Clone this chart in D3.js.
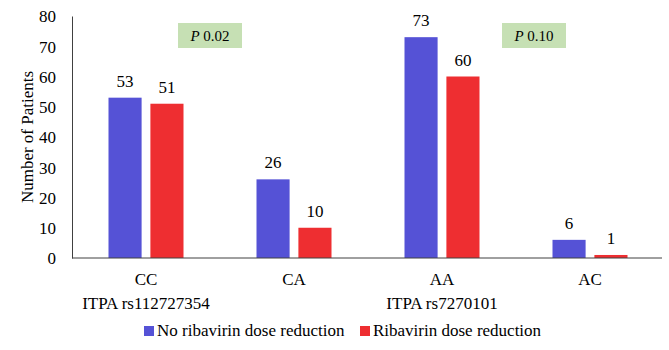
<!DOCTYPE html>
<html lang="en">
<head>
<meta charset="utf-8">
<title>ITPA genotype and ribavirin dose reduction</title>
<script src="https://cdn.jsdelivr.net/npm/d3@7"></script>
<style>
  body { margin: 0; background: #fff; }
  text { font-family: "Liberation Serif", "Times New Roman", serif; fill: #000; }
</style>
</head>
<body>
<script>
// categories and the second line under two of them
var categories = ["CC", "CA", "AA", "AC"];
var subLabels = ["ITPA rs112727354", "", "ITPA rs7270101", ""];
var seriesNames = ["No ribavirin dose reduction", "Ribavirin dose reduction"];
var noReduction = [53, 26, 73, 6];
var reduction = [51, 10, 60, 1];
var yTicks = [0, 10, 20, 30, 40, 50, 60, 70, 80];
var pValues = ["0.02", "0.10"];

var colors = ["#5552d6", "#ee2e31"];

var w = 669, h = 350;
var plotLeft = 72, plotRight = 664, plotTop = 16, plotBottom = 258;

var svg = d3.select("body").append("svg")
  .attr("width", w)
  .attr("height", h);

var x = d3.scaleBand()
  .domain(categories)
  .range([plotLeft, plotRight]);

var x1 = d3.scaleBand()
  .domain([0, 1])
  .range([x.bandwidth() / 2 - 37.5, x.bandwidth() / 2 + 37.5])
  .paddingInner(0.21);

var y = d3.scaleLinear()
  .domain([0, 80])
  .range([plotBottom, plotTop]);

// y axis: line + labels, no ticks
var yAxis = svg.append("g")
  .attr("transform", "translate(" + plotLeft + ",0)")
  .call(d3.axisLeft(y).tickValues(yTicks).tickSize(0).tickPadding(16));
yAxis.select(".domain").attr("stroke", "#404040");
yAxis.selectAll("text")
  .style("font-family", "Liberation Serif, serif")
  .style("font-size", "17px")
  .attr("fill", "#000")
  .attr("dy", "0.34em");

svg.append("text")
  .attr("transform", "translate(27," + (plotTop + plotBottom) / 2 + ") rotate(-90)")
  .attr("text-anchor", "middle")
  .attr("dy", "0.35em")
  .style("font-size", "17px")
  .text("Number of Patients");

// bars
var rows = categories.map(function(c, i) {
  return { cat: c, vals: [noReduction[i], reduction[i]] };
});

var groups = svg.selectAll(".grp")
  .data(rows)
  .enter().append("g")
  .attr("class", "grp")
  .attr("transform", function(d) { return "translate(" + x(d.cat) + ",0)"; });

groups.selectAll("rect")
  .data(function(d) { return d.vals; })
  .enter().append("rect")
  .attr("x", function(d, i) { return x1(i); })
  .attr("width", x1.bandwidth())
  .attr("y", function(d) { return y(d); })
  .attr("height", function(d) { return y(0) - y(d); })
  .attr("fill", function(d, i) { return colors[i]; });

groups.selectAll(".val")
  .data(function(d) { return d.vals; })
  .enter().append("text")
  .attr("class", "val")
  .attr("x", function(d, i) { return x1(i) + x1.bandwidth() / 2; })
  .attr("y", function(d) { return y(d) - 11; })
  .attr("text-anchor", "middle")
  .style("font-size", "17px")
  .text(function(d) { return d; });

// x axis line
svg.append("line")
  .attr("x1", plotLeft).attr("x2", plotRight - 2)
  .attr("y1", plotBottom).attr("y2", plotBottom)
  .attr("stroke", "#404040");

// category labels
svg.selectAll(".cat")
  .data(categories)
  .enter().append("text")
  .attr("class", "cat")
  .attr("x", function(d) { return x(d) + x.bandwidth() / 2; })
  .attr("y", 285)
  .attr("text-anchor", "middle")
  .style("font-size", "17px")
  .text(function(d) { return d; });

svg.selectAll(".sub")
  .data(subLabels)
  .enter().append("text")
  .attr("class", "sub")
  .attr("x", function(d, i) { return x(categories[i]) + x.bandwidth() / 2; })
  .attr("y", 309)
  .attr("text-anchor", "middle")
  .style("font-size", "17px")
  .text(function(d) { return d; });

// P value boxes
var pBox = [{ cx: 210, p: pValues[0] }, { cx: 534, p: pValues[1] }];
var pb = svg.selectAll(".pbox")
  .data(pBox)
  .enter().append("g")
  .attr("class", "pbox");
pb.append("rect")
  .attr("x", function(d) { return d.cx - 32; })
  .attr("y", 23)
  .attr("width", 64)
  .attr("height", 25)
  .attr("fill", "#c6e0b4");
pb.append("text")
  .attr("x", function(d) { return d.cx; })
  .attr("y", 41)
  .attr("text-anchor", "middle")
  .style("font-size", "15px")
  .html(function(d) { return '<tspan font-style="italic">P</tspan> ' + d.p; });

// legend
var legendX = [144, 360];
var lg = svg.selectAll(".leg")
  .data(seriesNames)
  .enter().append("g")
  .attr("class", "leg")
  .attr("transform", function(d, i) { return "translate(" + legendX[i] + ",0)"; });
lg.append("rect")
  .attr("x", 0).attr("y", 326)
  .attr("width", 10).attr("height", 10)
  .attr("fill", function(d, i) { return colors[i]; });
lg.append("text")
  .attr("x", 13).attr("y", 336)
  .style("font-size", "17px")
  .text(function(d) { return d; });
</script>
</body>
</html>
